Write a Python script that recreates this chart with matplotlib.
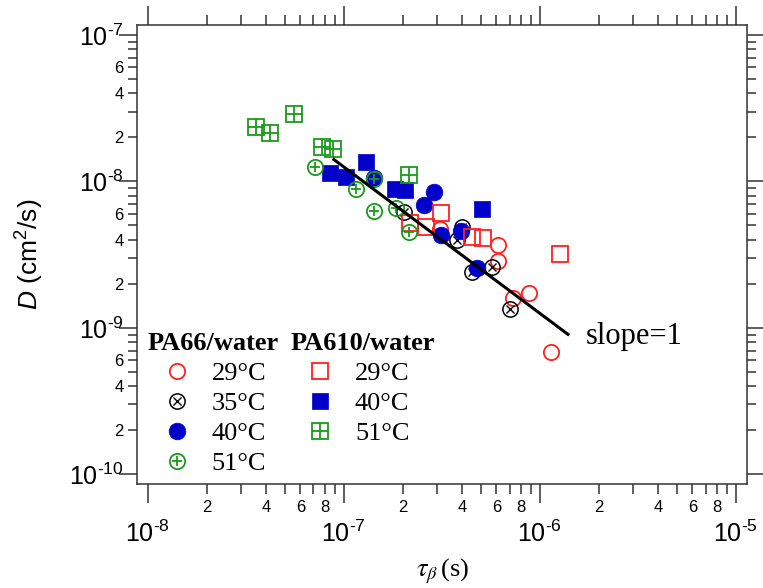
import matplotlib
matplotlib.use("Agg")
import matplotlib.pyplot as plt
import numpy as np
from matplotlib.ticker import FixedLocator, FuncFormatter

plt.rcParams["font.family"] = ["Liberation Sans", "DejaVu Sans"]
plt.rcParams["mathtext.fontset"] = "custom"
plt.rcParams["mathtext.rm"] = "Liberation Sans"
plt.rcParams["mathtext.it"] = "Liberation Sans:italic"
plt.rcParams["axes.unicode_minus"] = False

# PA66/water
PA66_29_TAU = [3.10e-7, 6.12e-7, 6.12e-7, 7.31e-7, 8.82e-7, 1.14e-6]
PA66_29_D = [4.72e-9, 3.67e-9, 2.85e-9, 1.59e-9, 1.72e-9, 6.81e-10]
PA66_35_TAU = [2.03e-7, 4.01e-7, 3.78e-7, 4.52e-7, 5.71e-7, 7.06e-7]
PA66_35_D = [6.17e-9, 4.87e-9, 3.97e-9, 2.40e-9, 2.60e-9, 1.34e-9]
PA66_40_TAU = [1.43e-7, 2.89e-7, 2.57e-7, 3.14e-7, 3.97e-7, 4.79e-7]
PA66_40_D = [1.05e-8, 8.45e-9, 6.89e-9, 4.30e-9, 4.57e-9, 2.56e-9]
PA66_51_TAU = [7.14e-8, 1.16e-7, 1.43e-7, 1.43e-7, 1.85e-7, 2.15e-7]
PA66_51_D = [1.25e-8, 8.86e-9, 1.04e-8, 6.27e-9, 6.57e-9, 4.50e-9]

# PA610/water
PA610_29_TAU = [2.18e-7, 2.63e-7, 3.14e-7, 4.52e-7, 5.14e-7, 1.27e-6]
PA610_29_D = [5.19e-9, 4.87e-9, 6.07e-9, 4.16e-9, 4.10e-9, 3.18e-9]
PA610_40_TAU = [8.51e-8, 1.02e-7, 1.29e-7, 1.83e-7, 2.06e-7, 5.08e-7]
PA610_40_D = [1.14e-8, 1.07e-8, 1.36e-8, 8.86e-9, 8.72e-9, 6.47e-9]
PA610_51_TAU = [3.57e-8, 4.21e-8, 5.58e-8, 7.75e-8, 8.81e-8, 2.15e-7]
PA610_51_D = [2.35e-8, 2.14e-8, 2.88e-8, 1.72e-8, 1.66e-8, 1.10e-8]

# slope = 1 guide line
LINE_TAU = [8.9e-8, 1.39e-6]
LINE_D = [1.41e-8, 9.04e-10]

X_DECADES = [-8, -7, -6, -5]
Y_DECADES = [-10, -9, -8, -7]

RED = "#ff2020"
BLUE = "#0000c8"
GREEN = "#1a9a1a"
AXC = "#333333"
MS = 11


def minor_label(keep):
    def fmt(v, pos):
        m = int(round(v / 10 ** np.floor(np.log10(v) + 1e-9)))
        return str(m) if m in keep else ""
    return fmt


def major_label(v, pos):
    e = int(round(np.log10(v)))
    sign = "\u2010" if e < 0 else ""
    return r"$\mathdefault{10^{%s%d}}$" % (sign, abs(e))


def set_log_ticks(axis, decades, keep):
    majors = [10.0 ** d for d in decades]
    minors = [m * 10.0 ** d for d in decades[:-1] for m in range(2, 10)]
    axis.set_major_locator(FixedLocator(majors))
    axis.set_minor_locator(FixedLocator(minors))
    axis.set_major_formatter(FuncFormatter(major_label))
    axis.set_minor_formatter(FuncFormatter(minor_label(keep)))


fig = plt.figure(figsize=(7.63, 5.88), dpi=100)
ax = fig.add_axes([0.1796, 0.1764, 0.799, 0.7811])
ax.set_xscale("log")
ax.set_yscale("log")
ax.set_xlim(10 ** -8.055, 10 ** -4.945)
ax.set_ylim(10 ** -10.068, 10 ** -6.932)

# PA66 series
h29, = ax.plot(PA66_29_TAU, PA66_29_D, "o", ms=MS, mfc="none", mec=RED, mew=1.3,
               ls="none", zorder=3)
h35a, = ax.plot(PA66_35_TAU, PA66_35_D, "o", ms=MS, mfc="none", mec="k", mew=1.1,
                ls="none", zorder=3)
h35b, = ax.plot(PA66_35_TAU, PA66_35_D, "x", ms=5.5, mec="k", mew=1.0,
                ls="none", zorder=3)
h40, = ax.plot(PA66_40_TAU, PA66_40_D, "o", ms=MS + 1, mfc=BLUE, mec=BLUE, mew=0.5,
               ls="none", zorder=4)
h51a, = ax.plot(PA66_51_TAU, PA66_51_D, "o", ms=MS, mfc="none", mec=GREEN, mew=1.3,
                ls="none", zorder=5)
h51b, = ax.plot(PA66_51_TAU, PA66_51_D, "+", ms=7, mec=GREEN, mew=1.3,
                ls="none", zorder=5)

# PA610 series
s29, = ax.plot(PA610_29_TAU, PA610_29_D, "s", ms=MS, mfc="none", mec=RED, mew=1.3,
               ls="none", zorder=4)
s40, = ax.plot(PA610_40_TAU, PA610_40_D, "s", ms=MS + 0.5, mfc=BLUE, mec=BLUE, mew=0.5,
               ls="none", zorder=4)
s51a, = ax.plot(PA610_51_TAU, PA610_51_D, "s", ms=MS, mfc="none", mec=GREEN, mew=1.3,
                ls="none", zorder=5)
s51b, = ax.plot(PA610_51_TAU, PA610_51_D, "+", ms=MS, mec=GREEN, mew=1.3,
                ls="none", zorder=5)

ax.plot(LINE_TAU, LINE_D, "-", color="k", lw=2.2, zorder=6)
ax.text(0.7364, 0.3207, "slope=1", transform=ax.transAxes, fontsize=22,
        family="Liberation Serif", va="center", ha="left")

# axes styling
for sp in ax.spines.values():
    sp.set_color(AXC)
    sp.set_linewidth(1.1)
set_log_ticks(ax.xaxis, X_DECADES, (2, 4, 6, 8))
set_log_ticks(ax.yaxis, Y_DECADES, (2, 4, 6))

ax.tick_params(which="both", direction="out", top=True, right=True,
               labeltop=False, labelright=False, color=AXC, width=1.1)
ax.tick_params(axis="x", which="major", length=13.5, pad=13, labelsize=18)
ax.tick_params(axis="x", which="minor", length=7, pad=4.5, labelsize=12)
ax.tick_params(axis="y", which="major", length=13, pad=-3.5, labelsize=18)
ax.tick_params(axis="y", which="minor", length=6.5, pad=3, labelsize=12)

ax.set_ylabel(r"$\mathit{D}$ (cm$^2$/s)", fontsize=19)
ax.yaxis.set_label_coords(-0.15, 0.5)
xl = ax.set_xlabel(r"$\tau_\beta\,$(s)", fontsize=19, family="Liberation Serif")
xl.set_math_fontfamily("stix")
ax.xaxis.set_label_coords(0.502, -0.157)

# legends
leg_kw = dict(frameon=False, loc="upper left", borderpad=0, borderaxespad=0,
              handlelength=2.17, handletextpad=0.25, labelspacing=0.25,
              alignment="left",
              prop={"family": "Liberation Serif", "size": 19},
              title_fontproperties={"family": "Liberation Serif", "size": 19,
                                    "weight": "bold"})
leg1 = ax.legend([h29, (h35a, h35b), h40, (h51a, h51b)],
                 ["29°C", "35°C", "40°C", "51°C"], title="PA66/water",
                 bbox_to_anchor=(0.018, 0.332), **leg_kw)
ax.add_artist(leg1)
ax.legend([s29, s40, (s51a, s51b)], ["29°C", "40°C", "51°C"], title="PA610/water",
          bbox_to_anchor=(0.2526, 0.332), **leg_kw)

fig.savefig("out.png", dpi=100)
